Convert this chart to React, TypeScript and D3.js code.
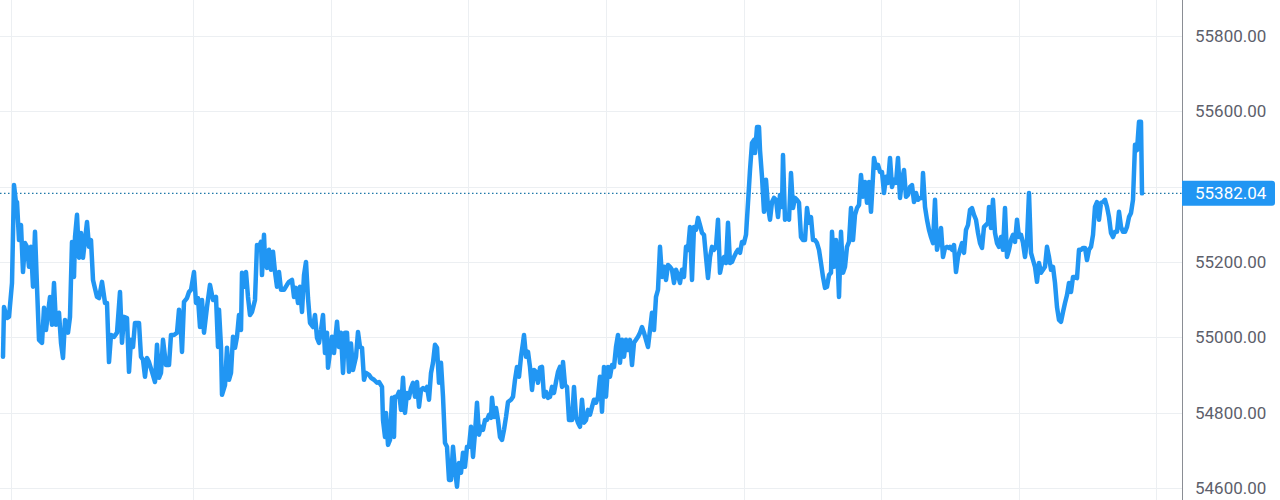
import React from "react";
import * as d3 from "d3";

// time offsets (minutes from start of window)
const times: number[] = [
  3,4,7,9,12,14,16,17,19,21,23,25,27,29,31,33,35,37,39,42,44,46,48,50,52,54,56,59,61,63,65,68,70,72,74,75,77,79,81,83,85,87,89,91,93,97,99,102,105,107,109,111,114,117,120,122,124,127,129,131,133,135,139,141,143,145,147,149,152,155,157,159,161,163,166,169,171,174,177,179,181,182,184,187,189,191,
  194,196,198,200,202,204,207,210,213,216,218,219,221,222,225,227,229,231,233,235,237,239,241,242,244,246,248,250,252,255,257,259,261,262,264,265,267,269,271,273,275,277,279,281,284,287,289,292,294,296,298,300,302,304,306,308,310,313,315,317,319,321,323,325,327,328,330,332,334,337,339,341,343,345,347,349,351,353,356,358,360,362,364,366,369,371,374,377,379,382,383,385,
  386,388,390,392,394,395,397,399,401,403,405,407,409,411,413,415,417,419,421,423,425,427,429,431,433,435,437,439,441,443,445,447,449,451,453,455,457,459,461,463,465,467,469,471,473,475,477,479,481,483,485,487,489,491,492,494,496,498,500,502,504,506,508,511,513,515,517,519,521,523,524,526,528,530,532,534,536,538,540,542,544,546,548,550,552,554,556,558,560,562,563,565,567,569,
  572,574,576,578,580,582,584,586,588,590,592,594,596,598,600,602,604,606,608,610,612,614,616,618,620,622,624,626,628,630,632,634,636,638,640,642,644,646,648,650,652,654,656,658,660,662,664,666,668,670,672,674,676,678,680,682,684,686,688,690,692,694,696,698,700,702,704,706,708,710,712,714,716,718,720,722,724,726,728,730,732,734,736,738,740,742,744,746,748,750,752,754,755,757,759,760,
  762,764,766,768,770,772,774,776,778,780,782,783,785,787,789,791,793,795,797,799,801,803,805,807,809,811,813,815,817,819,821,823,825,827,829,831,832,834,836,838,839,841,843,845,847,849,851,853,855,857,859,861,863,865,867,869,871,872,874,876,878,880,882,884,886,888,890,892,894,896,898,900,902,904,906,908,910,912,914,916,918,920,922,923,925,927,929,931,933,935,937,939,941,943,945,947,949,
  950,952,954,956,958,960,962,964,966,968,970,972,974,976,978,980,982,984,986,988,989,991,993,995,997,999,1001,1003,1005,1007,1009,1011,1013,1015,1017,1019,1021,1023,1025,1027,1029,1031,1033,1035,1037,1039,1041,1043,1045,1047,1049,1051,1053,1055,1057,1059,1061,1063,1065,1067,1069,1071,1073,1075,1077,1079,1081,1083,1085,1087,1089,1091,1093,1095,1097,1099,1101,1103,1105,1107,1109,1111,1113,1115,1117,1119,1121,1123,1125,1127,1129,1131,1133,1135,1137,1139,1141,1142,
];

const prices: number[] = [
  54948,55080,55051,55054,55144,55404,55357,55359,55258,55298,55173,55250,55240,55187,55240,55134,55280,55134,54993,54985,55078,55019,55065,55107,55033,55144,55033,55065,54985,54945,55046,55012,55054,55253,55160,55266,55325,55211,55277,55211,55258,55306,55240,55258,55152,55107,55104,55147,55091,55091,54934,55006,55001,55012,55120,54985,55054,55051,54908,54993,54974,55038,55038,54948,54940,54895,54945,54934,54908,54881,54980,54892,54905,54993,54926,54926,55006,55006,55012,55073,55012,54961,55094,55104,55120,55126,
  55173,55091,55104,55027,55099,55012,55080,55139,55099,55107,54974,55073,54974,54847,54873,54972,54887,54905,55001,54972,55001,55059,55019,55171,55134,55173,55107,55059,55067,55099,55245,55240,55253,55165,55272,55205,55184,55232,55179,55227,55173,55134,55173,55126,55126,55139,55147,55152,55107,55131,55091,55134,55067,55165,55200,55104,55038,55027,55059,54998,54985,55019,55059,54958,55012,54919,54961,55001,54958,55041,54974,55012,54905,55012,55012,54908,54983,54913,54948,55014,54974,54972,54887,54905,54900,54892,54887,54879,54881,54868,54780,54735,
  54799,54714,54727,54839,54735,54842,54842,54855,54807,54892,54799,54852,54839,54865,54879,54842,54881,54815,54860,54865,54860,54868,54834,54905,54932,54980,54972,54879,54932,54842,54719,54709,54621,54621,54709,54648,54603,54666,54640,54693,54656,54709,54709,54762,54682,54746,54826,54741,54762,54754,54780,54780,54794,54786,54839,54788,54812,54780,54735,54727,54754,54788,54828,54834,54842,54887,54921,54895,54948,54985,55006,54948,54961,54921,54860,54913,54908,54879,54919,54921,54842,54855,54839,54842,54868,54852,54881,54908,54921,54868,54934,54873,54868,54780,
  54780,54868,54788,54773,54762,54834,54773,54780,54807,54794,54815,54834,54826,54842,54895,54802,54921,54842,54921,54895,54926,54921,54974,55006,54932,54993,54948,54993,54966,54993,54926,54985,54993,55001,55012,55027,55012,54993,54974,55019,55065,55019,55107,55126,55240,55160,55187,55152,55192,55187,55179,55144,55179,55165,55144,55179,55160,55240,55232,55293,55152,55293,55285,55317,55298,55277,55272,55213,55157,55213,55240,55232,55240,55312,55171,55197,55213,55197,55304,55197,55200,55213,55224,55232,55224,55253,55250,55272,55357,55444,55516,55524,55489,55558,55558,55497,
  55426,55333,55418,55346,55312,55359,55370,55365,55319,55378,55346,55484,55312,55319,55312,55436,55343,55370,55365,55357,55266,55258,55258,55343,55304,55319,55258,55258,55250,55232,55197,55160,55131,55134,55165,55171,55280,55187,55258,55179,55107,55280,55171,55187,55240,55253,55343,55258,55325,55343,55351,55431,55373,55412,55357,55412,55333,55378,55476,55450,55458,55439,55439,55383,55426,55410,55476,55399,55418,55410,55476,55370,55418,55444,55373,55378,55399,55404,55359,55383,55365,55370,55370,55436,55346,55312,55285,55266,55250,55365,55232,55258,55290,55213,55237,55240,55237,
  55240,55232,55245,55173,55213,55232,55250,55224,55285,55298,55338,55343,55325,55312,55277,55250,55237,55293,55298,55304,55346,55290,55365,55277,55250,55240,55266,55232,55343,55213,55232,55258,55272,55253,55312,55266,55272,55250,55213,55258,55383,55224,55205,55187,55147,55197,55171,55179,55187,55240,55213,55179,55187,55144,55080,55046,55041,55067,55091,55112,55144,55120,55160,55160,55157,55232,55232,55237,55237,55205,55232,55240,55272,55346,55359,55312,55357,55359,55365,55346,55319,55277,55266,55280,55280,55333,55293,55280,55280,55293,55319,55330,55365,55511,55497,55572,55572,55382.04,
];

const priceTicks: number[] = [54600, 54800, 55000, 55200, 55400, 55600, 55800];
const timeGrid: number[] = [11, 193, 331, 468, 606, 744, 881, 1019, 1156];
const lastPrice = 55382.04;

const W = 1280;
const H = 500;
const axisX = 1182;

export default function App() {
  const x = d3.scaleLinear().domain([0, 1182]).range([0, axisX]);
  const y = d3.scaleLinear().domain([54600, 55800]).range([487.8, 36]);
  const pts: [number, number][] = times.map((t, i) => [t, prices[i]]);
  const line = d3
    .line<[number, number]>()
    .x((d) => x(d[0]))
    .y((d) => y(d[1]));
  const font = "Roboto, 'Open Sans', sans-serif";
  const ly = y(lastPrice);
  return (
    <svg
      width={W}
      height={H}
      style={{ position: "absolute", left: 0, top: 0, background: "#fff" }}
    >
      <rect x={0} y={0} width={W} height={H} fill="#ffffff" />
      <g>
        {priceTicks.map((p) => (
          <line
            key={"h" + p}
            x1={0}
            x2={axisX}
            y1={Math.round(y(p)) + 0.5}
            y2={Math.round(y(p)) + 0.5}
            stroke="#eceff2"
            strokeWidth={1}
          />
        ))}
        {timeGrid.map((t) => (
          <line
            key={"v" + t}
            x1={Math.round(x(t)) + 0.5}
            x2={Math.round(x(t)) + 0.5}
            y1={0}
            y2={H}
            stroke="#eceff2"
            strokeWidth={1}
          />
        ))}
      </g>
      <line
        x1={0}
        x2={axisX}
        y1={ly}
        y2={ly}
        stroke="#1f78a8"
        strokeWidth={1.2}
        strokeDasharray="1.5 2.5"
      />
      <clipPath id="plot">
        <rect x={0} y={0} width={axisX} height={H} />
      </clipPath>
      <path
        d={line(pts) || ""}
        fill="none"
        stroke="#2196f3"
        strokeWidth={4.5}
        strokeLinejoin="round"
        strokeLinecap="round"
        clipPath="url(#plot)"
      />
      <line
        x1={axisX + 0.5}
        x2={axisX + 0.5}
        y1={0}
        y2={H}
        stroke="#8a8d94"
        strokeWidth={1}
      />
      {priceTicks
        .filter((p) => Math.abs(y(p) - ly) > 20)
        .map((p) => (
          <text
            key={"t" + p}
            x={1195}
            y={y(p)}
            dominantBaseline="central"
            fontFamily={font}
            fontSize={17}
            fill="#5d606b"
          >
            {p.toFixed(2)}
          </text>
        ))}
      <path
        d={`M${axisX},${ly - 12.5}H${1272}a3,3 0 0 1 3,3V${ly + 9.5}a3,3 0 0 1 -3,3H${axisX}Z`}
        fill="#2196f3"
      />
      <text
        x={1195}
        y={ly}
        dominantBaseline="central"
        fontFamily={font}
        fontSize={17}
        fill="#ffffff"
      >
        {lastPrice.toFixed(2)}
      </text>
    </svg>
  );
}
